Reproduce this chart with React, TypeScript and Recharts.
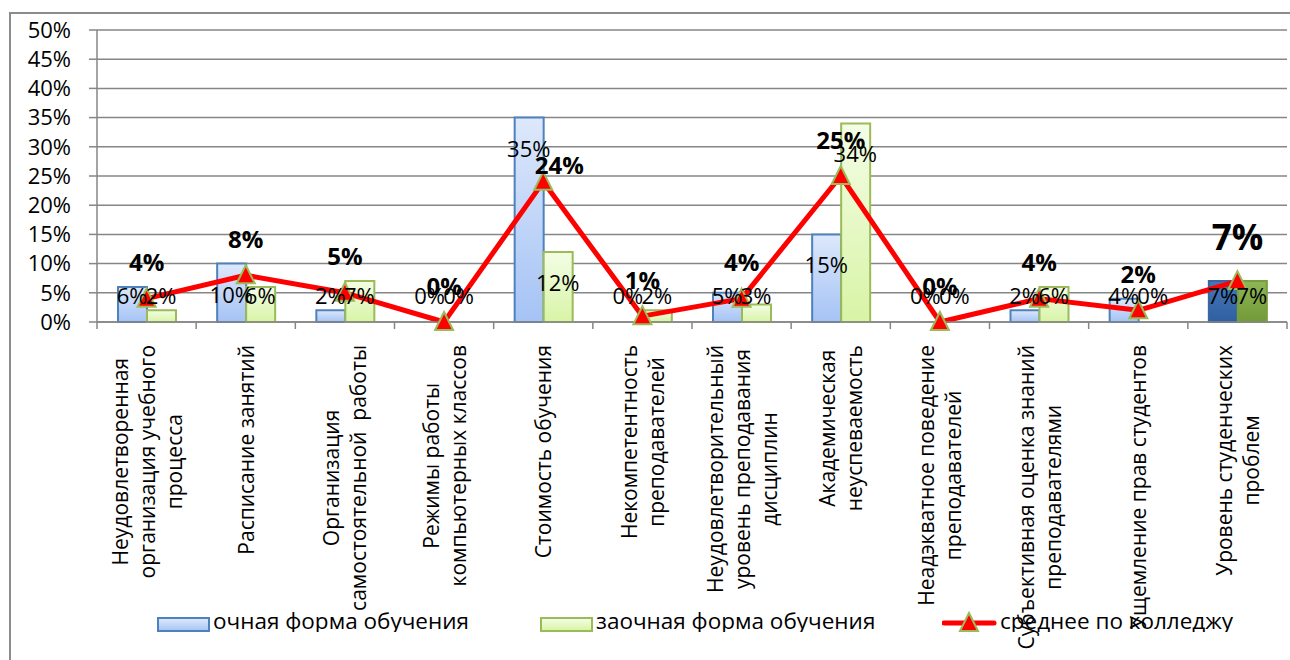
import {
    Bar,
    CartesianGrid,
    Cell,
    ComposedChart,
    LabelList,
    Legend,
    Line,
    XAxis,
    YAxis,
} from 'recharts'

const categories = [
    'Неудовлетворенная\nорганизация учебного\nпроцесса',
    'Расписание занятий',
    'Организация\nсамостоятельной  работы',
    'Режимы работы\nкомпьютерных классов',
    'Стоимость обучения',
    'Некомпетентность\nпреподавателей',
    'Неудовлетворительный\nуровень преподавания\nдисциплин',
    'Академическая\nнеуспеваемость',
    'Неадэкватное поведение\nпреподавателей',
    'Субъективная оценка знаний\nпреподавателями',
    'Ущемление прав студентов',
    'Уровень студенческих\nпроблем',
]

// percent values
const fullTime = [6, 10, 2, 0, 35, 0, 5, 15, 0, 2, 4, 7]
const partTime = [2, 6, 7, 0, 12, 2, 3, 34, 0, 6, 0, 7]
const collegeAvg = [4, 8, 5, 0, 24, 1, 4, 25, 0, 4, 2, 7]

const yTicks = [0, 5, 10, 15, 20, 25, 30, 35, 40, 45, 50]

const seriesNames = ['очная форма обучения', 'заочная форма обучения', 'среднее по колледжу']

const data = categories.map((name, i) => ({
    name,
    full: fullTime[i],
    part: partTime[i],
    avg: collegeAvg[i],
}))

const W = 1290
const H = 660
const MARGIN = { top: 30, right: 3, bottom: 0, left: 0 }
const Y_AXIS_W = 97
const X_AXIS_H = 338
const PLOT_W = W - MARGIN.left - MARGIN.right - Y_AXIS_W
const PLOT_BOTTOM = H - MARGIN.bottom - X_AXIS_H
const BAR_W = 29
const LAST = categories.length - 1

const FONT = '"Open Sans", sans-serif'
const AXIS = '#868686'
const TICK_FS = 21

const measureCtx = typeof document !== 'undefined' ? document.createElement('canvas').getContext('2d') : null
const textWidth = (s: string, font: string) => {
    if (!measureCtx) return s.length * 11
    measureCtx.font = font
    return measureCtx.measureText(s).width
}

function CategoryTick(props: any) {
    const { x, y, payload } = props
    const idx = payload.index ?? props.index
    const band = PLOT_W / categories.length
    const lines = String(payload.value).split('\n')
    const maxL = Math.max(...lines.map((l) => textWidth(l, `${TICK_FS}px "Open Sans"`)))
    return (
        <g>
            <line x1={x - band / 2} x2={x - band / 2} y1={y} y2={y + 7} stroke={AXIS} strokeWidth={1.5} />
            {idx === LAST && (
                <line x1={x + band / 2} x2={x + band / 2} y1={y} y2={y + 7} stroke={AXIS} strokeWidth={1.5} />
            )}
            <g transform={`translate(${x},${y + 23}) rotate(-90)`}>
                {lines.map((l, i) => (
                    <text
                        key={i}
                        x={-maxL / 2}
                        y={(i - (lines.length - 1) / 2) * 27}
                        textAnchor='middle'
                        dominantBaseline='central'
                        fontFamily={FONT}
                        fontSize={TICK_FS}
                        fill='#000'
                        style={{ whiteSpace: 'pre' }}
                    >
                        {l}
                    </text>
                ))}
            </g>
        </g>
    )
}

// bar value labels: drawn from hidden line series so that 0% values get a label too
const barLabel = (shift: number) => (props: any) => {
    const { x, y, value, index } = props
    const cy = Math.min(y + 30, PLOT_BOTTOM - 27)
    return (
        <text
            key={index}
            x={x + shift}
            y={cy}
            textAnchor='middle'
            dominantBaseline='central'
            fontFamily={FONT}
            fontSize={22}
            fill='#000'
        >
            {`${value}%`}
        </text>
    )
}

// the label over "Стоимость обучения" sits lower and to the right in the original
const avgLabelNudge: Record<number, [number, number]> = { 4: [16, 20] }

function AvgLabel(props: any) {
    const { x, y, value, index } = props
    const big = index === LAST
    const [dx, dy] = avgLabelNudge[index] ?? [0, 0]
    return (
        <text
            x={x + dx}
            y={y - (big ? 45 : 37) + dy}
            textAnchor='middle'
            dominantBaseline='central'
            fontFamily={FONT}
            fontWeight='bold'
            fontSize={big ? 35 : 24}
            fill='#000'
        >
            {`${value}%`}
        </text>
    )
}

function TriangleDot(props: any) {
    const { cx, cy } = props
    if (cx == null || cy == null) return null
    return (
        <path
            d={`M${cx},${cy - 10} L${cx + 9},${cy + 8} L${cx - 9},${cy + 8} Z`}
            fill='#ff0000'
            stroke='#9bbb59'
            strokeWidth={2}
        />
    )
}

function LegendRow() {
    const box = (bg: string, border: string) => (
        <div
            style={{
                position: 'absolute',
                left: 0,
                top: 11,
                width: 49,
                height: 11,
                background: bg,
                border: `2px solid ${border}`,
            }}
        />
    )
    const lefts = [157, 540, 942]
    return (
        <div style={{ position: 'relative', width: W, height: 30, fontFamily: FONT, fontSize: 22.5, color: '#000', lineHeight: '30px' }}>
            <div style={{ position: 'absolute', left: lefts[0], top: 0 }}>
                {box('linear-gradient(#dce7fb, #a9c6f5)', '#4f81bd')}
                <span style={{ marginLeft: 56, whiteSpace: 'nowrap' }}>{seriesNames[0]}</span>
            </div>
            <div style={{ position: 'absolute', left: lefts[1], top: 0 }}>
                {box('linear-gradient(#f3fde3, #d9f5a8)', '#9bbb59')}
                <span style={{ marginLeft: 56, whiteSpace: 'nowrap' }}>{seriesNames[1]}</span>
            </div>
            <div style={{ position: 'absolute', left: lefts[2], top: 0 }}>
                <svg width={56} height={34} style={{ position: 'absolute', left: 0, top: 0 }}>
                    <line x1={2} x2={52} y1={17} y2={17} stroke='#ff0000' strokeWidth={5} strokeLinecap='round' />
                    <TriangleDot cx={27} cy={17} />
                </svg>
                <span style={{ marginLeft: 58, whiteSpace: 'nowrap' }}>{seriesNames[2]}</span>
            </div>
        </div>
    )
}

export default function App() {
    return (
        <div style={{ position: 'absolute', left: 0, top: 0, width: W, height: H, overflow: 'hidden', background: '#fff' }}>
            <div
                style={{
                    position: 'absolute',
                    left: 9,
                    top: 12,
                    width: W + 40,
                    height: H + 40,
                    border: '2px solid #8c8c8c',
                }}
            />
            <div style={{ position: 'absolute', left: 0, top: 0 }}>
                <ComposedChart width={W} height={H} data={data} margin={MARGIN} barGap={0}>
                    <defs>
                        <linearGradient id='gBlue' x1='0' y1='0' x2='0' y2='1'>
                            <stop offset='0%' stopColor='#dde8fb' />
                            <stop offset='100%' stopColor='#a5c3f5' />
                        </linearGradient>
                        <linearGradient id='gGreen' x1='0' y1='0' x2='0' y2='1'>
                            <stop offset='0%' stopColor='#f4fde6' />
                            <stop offset='100%' stopColor='#d8f4a6' />
                        </linearGradient>
                        <linearGradient id='gBlueDark' x1='0' y1='0' x2='0' y2='1'>
                            <stop offset='0%' stopColor='#4577bd' />
                            <stop offset='100%' stopColor='#2f5f9f' />
                        </linearGradient>
                        <linearGradient id='gGreenDark' x1='0' y1='0' x2='0' y2='1'>
                            <stop offset='0%' stopColor='#8fb556' />
                            <stop offset='100%' stopColor='#729a38' />
                        </linearGradient>
                    </defs>
                    <CartesianGrid vertical={false} stroke={AXIS} strokeWidth={1.5} />
                    <XAxis
                        dataKey='name'
                        height={X_AXIS_H}
                        interval={0}
                        tickSize={0}
                        tickMargin={0}
                        tickLine={false}
                        axisLine={{ stroke: AXIS, strokeWidth: 1.5 }}
                        tick={(p: any) => <CategoryTick {...p} />}
                    />
                    <YAxis
                        width={Y_AXIS_W}
                        domain={[0, 50]}
                        ticks={yTicks}
                        interval={0}
                        tickFormatter={(v) => `${v}%`}
                        tickSize={8}
                        tickMargin={18}
                        axisLine={{ stroke: AXIS, strokeWidth: 1.5 }}
                        tickLine={{ stroke: AXIS, strokeWidth: 1.5 }}
                        tick={{ fill: '#000', fontSize: 22, fontFamily: FONT }}
                    />
                    <Legend
                        layout='horizontal'
                        verticalAlign='middle'
                        align='center'
                        wrapperStyle={{ top: 606, left: 0, width: W, height: 26, overflow: 'hidden' }}
                        content={() => <LegendRow />}
                    />
                    <Bar dataKey='full' name={seriesNames[0]} barSize={BAR_W} fill='url(#gBlue)' stroke='#4f81bd' strokeWidth={2} isAnimationActive={false}>
                        {data.map((_, i) => (
                            <Cell key={i} fill={i === LAST ? 'url(#gBlueDark)' : 'url(#gBlue)'} stroke={i === LAST ? '#3a679f' : '#4f81bd'} />
                        ))}
                    </Bar>
                    <Bar dataKey='part' name={seriesNames[1]} barSize={BAR_W} fill='url(#gGreen)' stroke='#9bbb59' strokeWidth={2} isAnimationActive={false}>
                        {data.map((_, i) => (
                            <Cell key={i} fill={i === LAST ? 'url(#gGreenDark)' : 'url(#gGreen)'} stroke={i === LAST ? '#77a03c' : '#9bbb59'} />
                        ))}
                    </Bar>
                    <Line dataKey='full' stroke='none' dot={false} activeDot={false} legendType='none' isAnimationActive={false}>
                        <LabelList dataKey='full' content={barLabel(-BAR_W / 2)} />
                    </Line>
                    <Line dataKey='part' stroke='none' dot={false} activeDot={false} legendType='none' isAnimationActive={false}>
                        <LabelList dataKey='part' content={barLabel(BAR_W / 2)} />
                    </Line>
                    <Line
                        dataKey='avg'
                        name={seriesNames[2]}
                        stroke='#ff0000'
                        strokeWidth={5}
                        strokeLinejoin='round'
                        dot={(p: any) => <TriangleDot key={p.index} {...p} />}
                        activeDot={false}
                        isAnimationActive={false}
                    >
                        <LabelList dataKey='avg' content={AvgLabel} />
                    </Line>
                </ComposedChart>
            </div>
        </div>
    )
}
